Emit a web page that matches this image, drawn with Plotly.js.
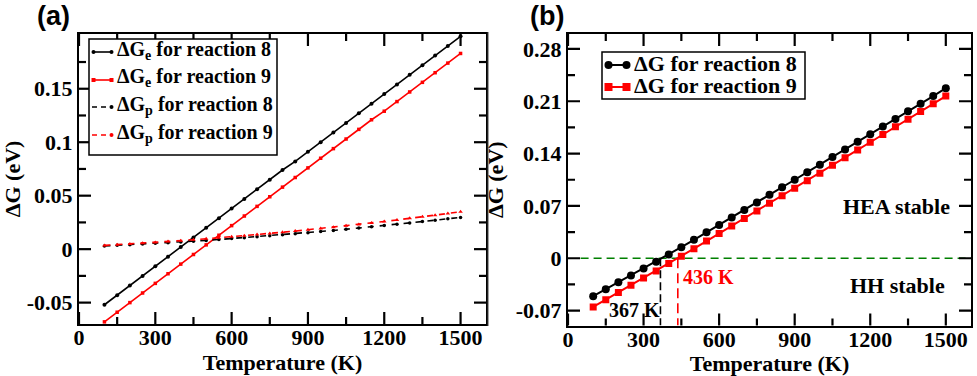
<!DOCTYPE html>
<html><head><meta charset="utf-8">
<script src="https://cdn.plot.ly/plotly-3.0.1.min.js"></script>
<style>body{margin:0;background:#fff}#chart{width:977px;height:376px}</style>
</head><body><div id="chart"></div>
<script>
// ---- data ----
const temperature = [100,150,200,250,300,350,400,450,500,550,600,650,700,750,800,850,900,950,1000,1050,1100,1150,1200,1250,1300,1350,1400,1450,1500];
// panel (a)
const dGe8 = [-0.052,-0.043,-0.034,-0.025,-0.016,-0.007,0.002,0.011,0.020,0.029,0.038,0.047,0.056,0.065,0.074,0.082,0.091,0.100,0.109,0.118,0.127,0.136,0.145,0.154,0.163,0.172,0.181,0.190,0.199];
const dGe9 = [-0.068,-0.059,-0.050,-0.041,-0.032,-0.023,-0.014,-0.005,0.004,0.013,0.022,0.031,0.040,0.049,0.058,0.067,0.076,0.085,0.094,0.103,0.112,0.121,0.129,0.138,0.147,0.156,0.165,0.174,0.183];
const dGp8 = [0.0030,0.0036,0.0041,0.0047,0.0054,0.0060,0.0067,0.0075,0.0082,0.0090,0.0099,0.0107,0.0116,0.0125,0.0135,0.0144,0.0154,0.0165,0.0175,0.0186,0.0197,0.0209,0.0221,0.0233,0.0245,0.0258,0.0271,0.0284,0.0297];
const dGp9 = [0.0035,0.0042,0.0048,0.0055,0.0063,0.0071,0.0079,0.0088,0.0097,0.0106,0.0116,0.0126,0.0136,0.0147,0.0158,0.0169,0.0181,0.0193,0.0205,0.0218,0.0231,0.0245,0.0259,0.0273,0.0288,0.0303,0.0318,0.0333,0.0349];
// panel (b)
const dG8 = [-0.0507,-0.0415,-0.0323,-0.0231,-0.0139,-0.0047,0.0050,0.0148,0.0247,0.0346,0.0446,0.0546,0.0646,0.0747,0.0848,0.0949,0.1050,0.1151,0.1252,0.1354,0.1456,0.1558,0.1660,0.1762,0.1864,0.1966,0.2068,0.2170,0.2275];
const dG9 = [-0.0651,-0.0555,-0.0458,-0.0362,-0.0265,-0.0170,-0.0072,0.0027,0.0128,0.0229,0.0330,0.0431,0.0532,0.0633,0.0734,0.0835,0.0936,0.1037,0.1138,0.1243,0.1346,0.1449,0.1552,0.1655,0.1758,0.1861,0.1964,0.2067,0.2170];
const crossT = [367, 436];
const crossLabels = ['367 K', '436 K'];
const namesA = ['ΔG<sub>e</sub> for reaction 8','ΔG<sub>e</sub> for reaction 9','ΔG<sub>p</sub> for reaction 8','ΔG<sub>p</sub> for reaction 9'];
const namesB = ['ΔG for reaction 8','ΔG for reaction 9'];
const regionLabels = ['HEA stable','HH stable'];
// ticks
const xTickVals = [0,300,600,900,1200,1500];
const xTickText = ['0','300','600','900','1200','1500'];
const xMinorVals = [150,450,750,1050,1350];
const yTickValsA = [-0.05,0,0.05,0.1,0.15];
const yTickTextA = ['-0.05','0','0.05','0.1','0.15'];
const yMinorValsA = [-0.025,0.025,0.075,0.125,0.175];
const yTickValsB = [-0.07,0,0.07,0.14,0.21,0.28];
const yTickTextB = ['-0.07','0','0.07','0.14','0.21','0.28'];
const yMinorValsB = [-0.035,0.035,0.105,0.175,0.245];

// ---- styling ----
const W = 977, H = 376;
const SERIF = 'Liberation Serif, Times New Roman, serif';
const bold = (size, color) => ({family: SERIF, size: size, weight: 'bold', color: color || 'black'});
const RED = '#ff0000';
const px = (x) => x / W;
const py = (y) => 1 - y / H;

const traces = [
  {x: temperature, y: dGe8, xaxis:'x', yaxis:'y', mode:'lines+markers', name:namesA[0],
   line:{color:'black', width:1.6}, marker:{symbol:'circle', size:4, color:'black'}},
  {x: temperature, y: dGe9, xaxis:'x', yaxis:'y', mode:'lines+markers', name:namesA[1],
   line:{color:RED, width:1.6}, marker:{symbol:'square', size:3.5, color:RED}},
  {x: temperature, y: dGp8, xaxis:'x', yaxis:'y', mode:'lines+markers', name:namesA[2],
   line:{color:'black', width:1.6, dash:'6px,6px'}, marker:{symbol:'circle', size:3.5, color:'black'}},
  {x: temperature, y: dGp9, xaxis:'x', yaxis:'y', mode:'lines+markers', name:namesA[3],
   line:{color:RED, width:1.6, dash:'6px,6px'}, marker:{symbol:'triangle-up', size:4, color:RED}},
  {x: temperature, y: dG8, xaxis:'x2', yaxis:'y2', mode:'lines+markers', name:namesB[0],
   line:{color:'black', width:2}, marker:{symbol:'circle', size:8, color:'black'}},
  {x: temperature, y: dG9, xaxis:'x2', yaxis:'y2', mode:'lines+markers', name:namesB[1],
   line:{color:RED, width:2}, marker:{symbol:'square', size:7, color:RED}},
  {x: [crossT[0], crossT[0]], y: [0, -0.09], xaxis:'x2', yaxis:'y2', mode:'lines', hoverinfo:'skip',
   line:{color:'black', width:1.6, dash:'8px,4px'}},
  {x: [crossT[1], crossT[1]], y: [0, -0.09], xaxis:'x2', yaxis:'y2', mode:'lines', hoverinfo:'skip',
   line:{color:RED, width:1.6, dash:'10px,5px'}}
];
traces.forEach(t => t.showlegend = false);

const axisBase = {
  showline:true, linecolor:'black', linewidth:2, mirror:true, ticks:'',
  showgrid:false, zeroline:false, tickfont: bold(22), tickmode:'array'
};

const shapes = [
  {type:'line', xref:'x2', yref:'y2', x0:50, x1:1600, y0:0, y1:0, line:{color:'#008000', width:1.5, dash:'8px,5px'}, layer:'below'},
  {type:'line', xref:'paper', yref:'paper', x0:px(488), x1:px(488), y0:py(326), y1:py(32), line:{color:'#444', width:1}}
];
// inward tick marks on all four sides, placed through the axes' own scales
function addTicks(xa, ya, plotW, plotH, xMaj, xMin, yMaj, yMin) {
  const tick = (obj) => shapes.push(Object.assign({type:'line', line:{color:'#000000', width:2.2}, layer:'above'}, obj));
  [[xMaj, 12], [xMin, 7]].forEach(([vals, len]) => vals.forEach(v => {
    tick({xref:xa, yref:ya + ' domain', x0:v, x1:v, y0:0, y1:len / plotH});
    tick({xref:xa, yref:ya + ' domain', x0:v, x1:v, y0:1 - len / plotH, y1:1});
  }));
  [[yMaj, 12], [yMin, 7]].forEach(([vals, len]) => vals.forEach(v => {
    tick({xref:xa + ' domain', yref:ya, y0:v, y1:v, x0:0, x1:len / plotW});
    tick({xref:xa + ' domain', yref:ya, y0:v, y1:v, x0:1 - len / plotW, x1:1});
  }));
}
addTicks('x', 'y', 407, 290, xTickVals, xMinorVals, yTickValsA, yMinorValsA);
addTicks('x2', 'y2', 403, 291.5, xTickVals, xMinorVals, yTickValsB, yMinorValsB);

// ---- hand-made legends (boxes, sample lines, markers and texts) ----
const annotations = [];
function legendBox(x0, y0, x1, y1) {
  shapes.push({type:'rect', xref:'paper', yref:'paper', x0:px(x0), x1:px(x1), y0:py(y1), y1:py(y0),
    fillcolor:'white', line:{color:'black', width:1.5}, layer:'above'});
}
function legendEntry(trace, xs0, xs1, yc, xt, fontSize, msize) {
  shapes.push({type:'line', xref:'paper', yref:'paper', x0:px(xs0), x1:px(xs1), y0:py(yc), y1:py(yc),
    line:{color:trace.line.color, width:trace.line.width, dash:trace.line.dash ? '5px,4px' : 'solid'}, layer:'above'});
  [xs0 + 1.5, xs1 - 1.5].forEach((cx, i) => {
    if (trace.line.dash && i === 0) return;
    const r = msize / 2;
    shapes.push({type: trace.marker.symbol === 'square' ? 'rect' : 'circle', xref:'paper', yref:'paper',
      x0:px(cx - r), x1:px(cx + r), y0:py(yc + r), y1:py(yc - r),
      fillcolor:trace.line.color, line:{width:0}, layer:'above'});
  });
  annotations.push({xref:'paper', yref:'paper', x:px(xt), y:py(yc - 2), xanchor:'left', yanchor:'middle',
    text:trace.name, showarrow:false, font:bold(fontSize)});
}
legendBox(89, 39, 277, 155);
[52, 80, 107, 135].forEach((yc, i) => legendEntry(traces[i], 92, 113, yc, 115, 20, 4));
legendBox(602, 52, 805, 99);
[65, 87].forEach((yc, i) => legendEntry(traces[4 + i], 607, 628, yc, 632, 22, 8));

annotations.push(
  {xref:'paper', yref:'paper', x:px(35), y:py(16), xanchor:'left', yanchor:'middle', text:'(a)', showarrow:false,
   font:{family:'Liberation Sans, Arial, sans-serif', size:27, weight:'bold', color:'black'}},
  {xref:'paper', yref:'paper', x:px(528), y:py(16), xanchor:'left', yanchor:'middle', text:'(b)', showarrow:false,
   font:{family:'Liberation Sans, Arial, sans-serif', size:27, weight:'bold', color:'black'}},
  {xref:'x2', yref:'y2', x:1306, y:0.069, text:regionLabels[0], showarrow:false, font:bold(22)},
  {xref:'x2', yref:'y2', x:1307, y:-0.036, text:regionLabels[1], showarrow:false, font:bold(22)},
  {xref:'x2', yref:'y2', x:263, y:-0.0696, text:crossLabels[0], showarrow:false, font:bold(20)},
  {xref:'x2', yref:'y2', x:557, y:-0.0248, text:crossLabels[1], showarrow:false, font:bold(20, RED)}
);

const layout = {
  width:W, height:H, margin:{l:0,r:0,t:0,b:0},
  paper_bgcolor:'white', plot_bgcolor:'white', showlegend:false,
  font: bold(20),
  xaxis: Object.assign({}, axisBase, {domain:[px(79),px(486)], range:[0,1600], tickvals:xTickVals, ticktext:xTickText,
    ticklabelstandoff:-7, title:{text:'Temperature (K)', font:bold(22), standoff:0}, anchor:'y'}),
  yaxis: Object.assign({}, axisBase, {domain:[py(324),py(34)], range:[-0.07,0.2012], tickvals:yTickValsA, ticktext:yTickTextA,
    title:{text:'ΔG (eV)', font:bold(22), standoff:6}, anchor:'x'}),
  xaxis2: Object.assign({}, axisBase, {domain:[px(568),px(971)], range:[0,1600], tickvals:xTickVals, ticktext:xTickText,
    ticklabelstandoff:-7, title:{text:'Temperature (K)', font:bold(22), standoff:0}, anchor:'y2'}),
  yaxis2: Object.assign({}, axisBase, {domain:[py(325.5),py(34)], range:[-0.09,0.30], tickvals:yTickValsB, ticktext:yTickTextB,
    title:{text:'ΔG (eV)', font:bold(22), standoff:6}, anchor:'x2'}),
  shapes: shapes,
  annotations: annotations
};

Plotly.newPlot('chart', traces, layout, {displayModeBar:false, staticPlot:true});
</script>
</body></html>
